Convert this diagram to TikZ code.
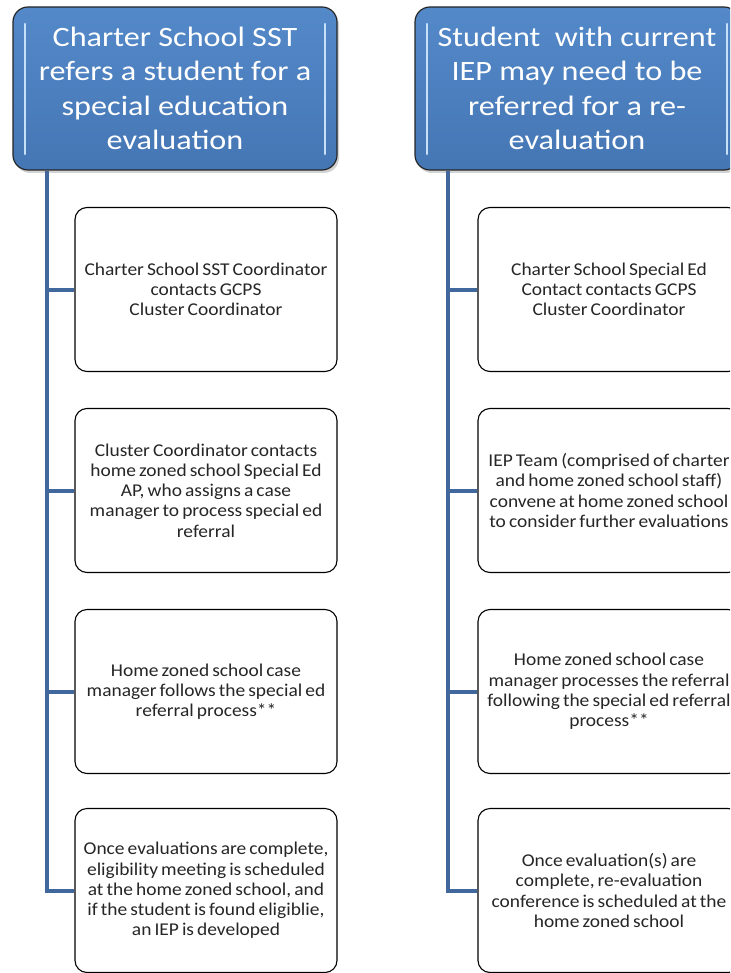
\documentclass[tikz,border=0pt]{standalone}
\usepackage{fontspec}
\setmainfont{Carlito}
\newfontfamily\hdrfont[FakeStretch=1.15]{Carlito}
\newfontfamily\boxfont[FakeStretch=1.08,WordSpace=0.7]{Carlito}
\usetikzlibrary{shadows}
\definecolor{hdrtop}{HTML}{5489C9}
\definecolor{hdrbot}{HTML}{4576B4}
\definecolor{connc}{HTML}{41689C}
\definecolor{gloss}{HTML}{C6E0FA}
\definecolor{boxtext}{HTML}{262626}
\begin{document}
\begin{tikzpicture}[x=1pt,y=-1pt,
 header/.style={draw=black!85, line width=1.2pt, rounded corners=15pt, top color=hdrtop, bottom color=hdrbot, minimum width=324pt, minimum height=163pt, text=white, align=center, inner sep=0pt, font=\hdrfont\fontsize{28}{34.5}\selectfont, drop shadow={shadow xshift=2pt, shadow yshift=-3pt, opacity=0.35}},
 stepbox/.style={draw=black, line width=1.1pt, rounded corners=12pt, fill=white, minimum width=262pt, minimum height=164pt, align=center, inner sep=0pt, text=boxtext, font=\boxfont\fontsize{18}{20.3}\selectfont},
 connl/.style={draw=connc, line width=4pt},
 glossbar/.style={draw=gloss, line width=2.5pt, line cap=round}
]
\useasboundingbox (0,0) rectangle (730,973);
\clip (0,0) rectangle (730,973);

% headers
\node[header] (hL) at (175,88.5) {Charter School SST\\refers a student for a\\special education\\evaluation};
\node[header] (hR) at (577,88.5) {Student\ \ with current\\IEP may need to be\\referred for a re-\\evaluation};
\draw[glossbar] (25,24) -- (25,154);
\draw[glossbar] (325,24) -- (325,154);
\draw[glossbar] (427,24) -- (427,154);
\draw[glossbar] (727,24) -- (727,154);

% left column
\node[stepbox] (L1) at (206,289.5) {Charter School SST Coordinator\\contacts GCPS\\Cluster Coordinator};
\node[stepbox] (L2) at (206,490.5) {Cluster Coordinator contacts\\home zoned school Special Ed\\AP, who assigns a case\\manager to process special ed\\referral};
\node[stepbox] (L3) at (206,691.5) {Home zoned school case\\manager follows the special ed\\referral process**};
\node[stepbox] (L4) at (206,890.5) {Once evaluations are complete,\\eligibility meeting is scheduled\\at the home zoned school, and\\if the student is found eligiblie,\\an IEP is developed};

% right column
\node[stepbox] (R1) at (609,289.5) {Charter School Special Ed\\Contact contacts GCPS\\Cluster Coordinator};
\node[stepbox] (R2) at (609,490.5) {IEP Team (comprised of charter\\and home zoned school staff)\\convene at home zoned school\\to consider further evaluations};
\node[stepbox] (R3) at (609,691.5) {Home zoned school case\\manager processes the referral\\following the special ed referral\\process**};
\node[stepbox] (R4) at (609,890.5) {Once evaluation(s) are\\complete, re-evaluation\\conference is scheduled at the\\home zoned school};

% connectors
\coordinate (lx) at (47,0);
\coordinate (rx) at (448,0);
\draw[connl] (hL.south -| lx) |- (L4.west);
\draw[connl] (lx |- L1.west) -- (L1.west);
\draw[connl] (lx |- L2.west) -- (L2.west);
\draw[connl] (lx |- L3.west) -- (L3.west);
\draw[connl] (hR.south -| rx) |- (R4.west);
\draw[connl] (rx |- R1.west) -- (R1.west);
\draw[connl] (rx |- R2.west) -- (R2.west);
\draw[connl] (rx |- R3.west) -- (R3.west);
\end{tikzpicture}
\end{document}
